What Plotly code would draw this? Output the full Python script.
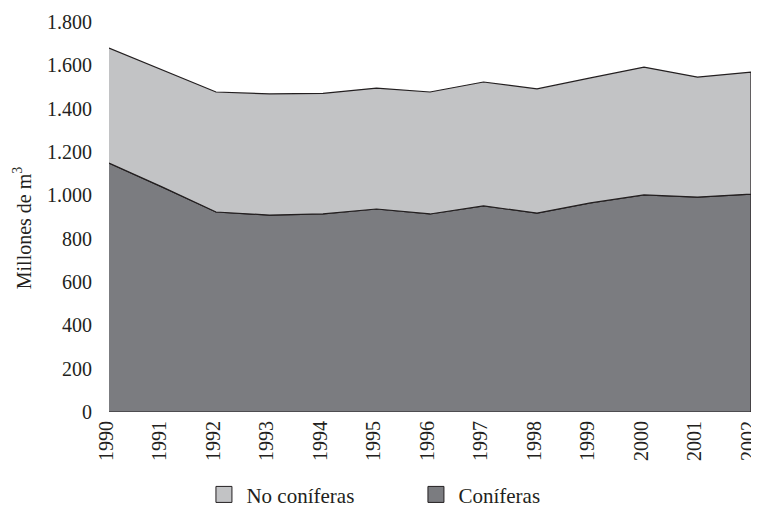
import plotly.graph_objects as go

years = [1990, 1991, 1992, 1993, 1994, 1995, 1996, 1997, 1998, 1999, 2000, 2001, 2002]
coniferas = [1149, 1038, 923, 909, 914, 937, 914, 951, 918, 965, 1002, 992, 1006]
no_coniferas = [531, 540, 554, 559, 557, 558, 563, 572, 573, 577, 590, 554, 563]
y_ticks = [0, 200, 400, 600, 800, 1000, 1200, 1400, 1600, 1800]

DARK = "#7b7c80"
LIGHT = "#c2c3c5"
FONT = "Times New Roman, Liberation Serif, serif"
TXT = "#231f20"
tf = dict(family=FONT, size=20, color=TXT)

total = [c + n for c, n in zip(coniferas, no_coniferas)]

fig = go.Figure()
# Coníferas area (closed polygon down to zero)
fig.add_trace(go.Scatter(
    x=years + [years[-1], years[0]],
    y=coniferas + [0, 0],
    fill="toself", fillcolor=DARK, mode="lines",
    line=dict(color=TXT, width=1.2),
    showlegend=False, hoverinfo="skip",
))
# No coníferas band (between coniferas and total)
fig.add_trace(go.Scatter(
    x=years + years[::-1],
    y=total + coniferas[::-1],
    fill="toself", fillcolor=LIGHT, mode="lines",
    line=dict(color=TXT, width=1.2),
    showlegend=False, hoverinfo="skip",
))
# Legend entries
fig.add_trace(go.Scatter(
    x=[None], y=[None], mode="markers", name="No coníferas",
    marker=dict(symbol="square", size=16, color=LIGHT, line=dict(color=TXT, width=1)),
))
fig.add_trace(go.Scatter(
    x=[None], y=[None], mode="markers", name="Coníferas",
    marker=dict(symbol="square", size=16, color=DARK, line=dict(color=TXT, width=1)),
))

fig.update_layout(
    width=759, height=514,
    margin=dict(l=101, r=16, t=14, b=110),
    paper_bgcolor="white", plot_bgcolor="white",
    font=tf,
    separators=",.",
    showlegend=True,
    legend=dict(
        orientation="h", x=0.144, xanchor="left", xref="paper",
        y=0.053, yanchor="middle", yref="container",
        font=dict(family=FONT, size=21, color=TXT),
        itemwidth=35, entrywidth=162, entrywidthmode="pixels",
        itemclick=False, itemdoubleclick=False,
    ),
    xaxis=dict(
        range=[1990, 2002], tickvals=years, ticktext=[str(y) for y in years],
        tickangle=-90, showgrid=False, zeroline=False, showline=False,
        ticks="", ticklabelstandoff=4, ticklabelshift=-3, automargin=False,
        tickfont=tf, ticklabeloverflow="allow",
    ),
    yaxis=dict(
        range=[0, 1800], tickvals=y_ticks, tickformat=",d",
        showgrid=False, zeroline=False, showline=False, ticks="",
        ticklabelstandoff=16, automargin=False, tickfont=tf,
    ),
    annotations=[dict(
        text="Millones de m<sup>3</sup>", textangle=-90,
        xref="paper", yref="paper", x=-0.135, y=0.472,
        xanchor="center", yanchor="middle", showarrow=False,
        font=dict(family=FONT, size=20, color=TXT),
    )],
)

fig.write_html("out.html")
